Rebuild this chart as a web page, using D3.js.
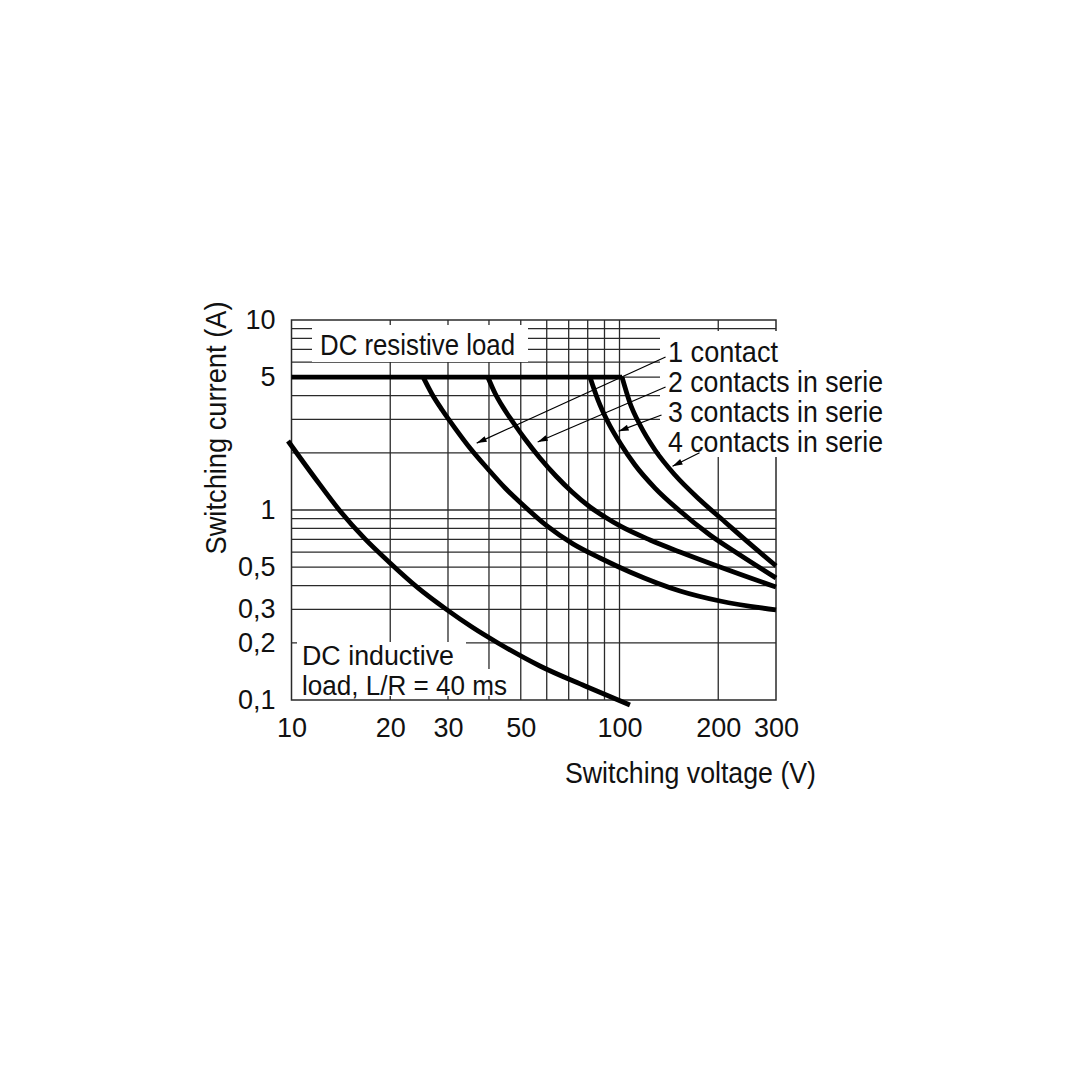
<!DOCTYPE html>
<html>
<head>
<meta charset="utf-8">
<script src="https://cdn.jsdelivr.net/npm/d3@7"></script>
<style>
  html, body { margin: 0; padding: 0; background: #fff; }
  svg { display: block; font-family: "Liberation Sans", Arial, sans-serif; }
</style>
</head>
<body>
<svg id="chart" width="1080" height="1080"></svg>
<script>
// axis ticks and grid
const voltageTicks = [10, 20, 30, 50, 100, 200, 300];
const voltageGrid = [20, 30, 40, 50, 60, 70, 80, 90, 100, 200];
const currentTicks = [10, 5, 1, 0.5, 0.3, 0.2, 0.1];
const currentGrid = [0.2, 0.3, 0.4, 0.5, 0.6, 0.7, 0.8, 0.9, 1, 2, 3, 4, 5, 6, 7, 8, 9];

// DC resistive load limit curves, [voltage V, current A]
const flatTop = [[10, 5], [101.8, 5]];
const contact1 = [[25.2, 5], [26.8, 4.08], [28.8, 3.36], [31.5, 2.70], [35.0, 2.12], [39.7, 1.644], [44.8, 1.305],
    [50.8, 1.062], [60.1, 0.824], [72.1, 0.663], [87.2, 0.559], [107.6, 0.472], [152.9, 0.375], [202.5, 0.332], [300, 0.298]];
const contact2 = [[39.7, 5], [41.7, 4.13], [44.1, 3.48], [47.3, 2.905], [51.5, 2.364], [57.2, 1.878], [64.0, 1.51],
    [71.7, 1.244], [81.3, 1.037], [90.3, 0.919], [100.4, 0.824], [123.9, 0.695], [152.9, 0.601], [202.5, 0.501], [300, 0.393]];
const contact3 = [[81.3, 5], [86.0, 3.79], [92.2, 2.905], [100.4, 2.252], [111.5, 1.725], [128.3, 1.305], [152.9, 0.988],
    [188.7, 0.739], [233.0, 0.580], [300, 0.439]];
const contact4 = [[101.8, 5], [107.6, 3.66], [115.5, 2.80], [128.3, 2.07], [147.6, 1.528], [176.0, 1.129], [209.7, 0.865],
    [250.0, 0.663], [300, 0.508]];

// DC inductive load, L/R = 40 ms
const inductive = [[9.76, 2.308], [11.79, 1.474], [14.06, 0.988], [16.75, 0.704], [19.97, 0.526], [24.3, 0.389],
    [29.8, 0.298], [35.5, 0.242], [42.6, 0.1995], [57.2, 0.151], [78.5, 0.1185], [107.6, 0.0941]];

// leader arrows, [from, to] in [V, A]
const arrows = [
    [[138.2, 6.39], [36.7, 2.25]],
    [[138.2, 4.44], [56.3, 2.28]],
    [[134.3, 3.16], [99.4, 2.6]],
    [[175.4, 2.0], [145.1, 1.7]]
];

const svg = d3.select("#chart");

const x = d3.scaleLog().domain([10, 300]).range([291.5, 776]);
const y = d3.scaleLog().domain([0.1, 10]).range([700, 320]);

const gridColor = "#2a2a2a";

// grid
const grid = svg.append("g").attr("stroke", gridColor).attr("stroke-width", 1.3);
grid.selectAll("line.v").data(voltageGrid).join("line")
    .attr("class", "v")
    .attr("x1", d => x(d)).attr("x2", d => x(d))
    .attr("y1", y(10)).attr("y2", y(0.1));
grid.selectAll("line.h").data(currentGrid).join("line")
    .attr("class", "h")
    .attr("x1", x(10)).attr("x2", x(300))
    .attr("y1", d => y(d)).attr("y2", d => y(d));

// frame
svg.append("rect")
    .attr("x", x(10)).attr("y", y(10))
    .attr("width", x(300) - x(10)).attr("height", y(0.1) - y(10))
    .attr("fill", "none").attr("stroke", gridColor).attr("stroke-width", 1.5);

// white label backgrounds hide the grid behind text
const boxes = [
    [312, 325, 216, 37],
    [660, 331, 230, 126],
    [297, 642, 169, 27],
    [297, 669, 211, 27]
];
svg.selectAll("rect.bg").data(boxes).join("rect")
    .attr("class", "bg")
    .attr("x", d => d[0]).attr("y", d => d[1])
    .attr("width", d => d[2]).attr("height", d => d[3])
    .attr("fill", "#fff");

// labels
const labels = [
    { t: "DC resistive load", x: 320, y: 355, w: 195, s: 29 },
    { t: "1 contact", x: 668, y: 362, w: 110, s: 29 },
    { t: "2 contacts in serie", x: 668, y: 392, w: 215, s: 29 },
    { t: "3 contacts in serie", x: 668, y: 422, w: 215, s: 29 },
    { t: "4 contacts in serie", x: 668, y: 452, w: 215, s: 29 },
    { t: "DC inductive", x: 302, y: 665, w: 152, s: 27 },
    { t: "load, L/R = 40 ms", x: 302, y: 695, w: 205, s: 27 }
];
svg.selectAll("text.lbl").data(labels).join("text")
    .attr("class", "lbl")
    .attr("x", d => d.x).attr("y", d => d.y)
    .attr("textLength", d => d.w)
    .attr("lengthAdjust", "spacingAndGlyphs")
    .attr("font-size", d => d.s)
    .attr("fill", "#111")
    .text(d => d.t);

// curves
const line = d3.line()
    .x(d => x(d[0]))
    .y(d => y(d[1]))
    .curve(d3.curveMonotoneX);

const curves = [flatTop, contact1, contact2, contact3, contact4, inductive];
svg.append("g").selectAll("path").data(curves).join("path")
    .attr("d", line)
    .attr("fill", "none")
    .attr("stroke", "#000")
    .attr("stroke-width", 4.8);

// arrows
svg.append("defs").append("marker")
    .attr("id", "head")
    .attr("viewBox", "0 0 10 6")
    .attr("refX", 10).attr("refY", 3)
    .attr("markerWidth", 12).attr("markerHeight", 6)
    .attr("markerUnits", "userSpaceOnUse")
    .attr("orient", "auto")
    .append("path")
    .attr("d", "M0,0 L10,3 L0,6 Z")
    .attr("fill", "#000");

svg.append("g").selectAll("line").data(arrows).join("line")
    .attr("x1", d => x(d[0][0])).attr("y1", d => y(d[0][1]))
    .attr("x2", d => x(d[1][0])).attr("y2", d => y(d[1][1]))
    .attr("stroke", "#000")
    .attr("stroke-width", 1.2)
    .attr("marker-end", "url(#head)");

// axes
const xAxis = svg.append("g")
    .attr("transform", `translate(0,${y(0.1)})`)
    .call(d3.axisBottom(x).tickValues(voltageTicks).tickFormat(d3.format("d")).tickSize(0).tickPadding(18));
const yAxis = svg.append("g")
    .attr("transform", `translate(${x(10)},0)`)
    .call(d3.axisLeft(y).tickValues(currentTicks).tickFormat(d => String(d).replace(".", ",")).tickSize(0).tickPadding(16));

[xAxis, yAxis].forEach(a => {
    a.select(".domain").remove();
    a.selectAll("text")
        .attr("font-family", "Liberation Sans, Arial, sans-serif")
        .attr("font-size", 27)
        .attr("fill", "#111");
});

// axis titles
svg.append("text")
    .attr("x", 690.5).attr("y", 783)
    .attr("text-anchor", "middle")
    .attr("textLength", 251).attr("lengthAdjust", "spacingAndGlyphs")
    .attr("font-size", 30).attr("fill", "#111")
    .text("Switching voltage (V)");

svg.append("text")
    .attr("transform", "translate(226,428) rotate(-90)")
    .attr("text-anchor", "middle")
    .attr("textLength", 253).attr("lengthAdjust", "spacingAndGlyphs")
    .attr("font-size", 30).attr("fill", "#111")
    .text("Switching current (A)");
</script>
</body>
</html>
